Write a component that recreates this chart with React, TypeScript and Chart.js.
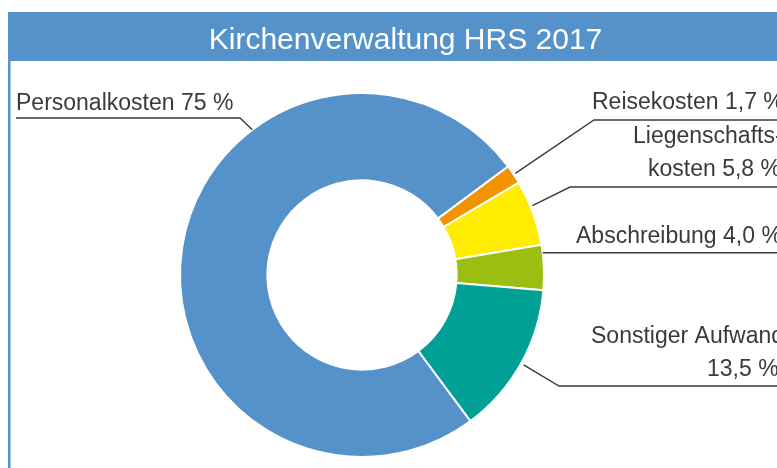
import React, { useEffect, useRef } from "react";
import { Chart, registerables } from "chart.js";

Chart.register(...registerables);

const title = "Kirchenverwaltung HRS 2017";
const categories = ["Personalkosten", "Reisekosten", "Liegenschaftskosten", "Abschreibung", "Sonstiger Aufwand"];
const shares = [75, 1.7, 5.8, 4.0, 13.5];
const labelLines = [
  ["Personalkosten 75 %"],
  ["Reisekosten 1,7 %"],
  ["Liegenschafts-", "kosten 5,8 %"],
  ["Abschreibung 4,0 %"],
  ["Sonstiger Aufwand", "13,5 %"],
];
const colors = ["#5592ca", "#f39200", "#ffec00", "#9cbe11", "#00a096"];

const BLUE = "#5592ca";
const TEXT = "#3a3a3a";
const FONT = '"Liberation Sans", Arial, sans-serif';

// label placement (layout only)
const labelLayout = [
  { frac: 0.665, rOff: 0, elbow: [240, 118], end: 16, text: [[16, 110]] },
  { frac: 0.5, rOff: 2, elbow: [594, 120], end: 777, text: [[592, 109]] },
  { frac: 0.4, rOff: 2, elbow: [570, 187], end: 777, text: [[633, 143], [648, 176]] },
  { frac: 0.18, rOff: 0, elbow: null, end: 777, text: [[576, 243]] },
  { frac: 0.5, rOff: 3, elbow: [559, 386], end: 777, text: [[591, 343], [707, 376]] },
];

const framePlugin = {
  id: "frame",
  beforeDraw(chart: any) {
    const ctx = chart.ctx;
    ctx.save();
    ctx.fillStyle = "#ffffff";
    ctx.fillRect(0, 0, chart.width, chart.height);
    ctx.fillStyle = BLUE;
    ctx.fillRect(8, 12, chart.width - 8, 49);
    ctx.fillRect(8, 61, 2.5, chart.height - 61);
    ctx.fillStyle = "#ffffff";
    ctx.font = `30px ${FONT}`;
    ctx.textAlign = "center";
    ctx.textBaseline = "alphabetic";
    ctx.fillText(title, 405.5, 49);
    ctx.restore();
  },
  afterDatasetsDraw(chart: any) {
    const ctx = chart.ctx;
    const meta = chart.getDatasetMeta(0);
    ctx.save();
    ctx.strokeStyle = TEXT;
    ctx.lineWidth = 1.4;
    ctx.fillStyle = TEXT;
    ctx.font = `23px ${FONT}`;
    ctx.textAlign = "left";
    ctx.textBaseline = "alphabetic";
    meta.data.forEach((arc: any, i: number) => {
      const p = arc.getProps(["x", "y", "startAngle", "endAngle", "outerRadius"], true);
      const L = labelLayout[i];
      const a = p.startAngle + (p.endAngle - p.startAngle) * L.frac;
      const r = p.outerRadius + L.rOff;
      const ax = p.x + Math.cos(a) * r;
      const ay = p.y + Math.sin(a) * r;
      ctx.beginPath();
      ctx.moveTo(ax, ay);
      let ey = ay;
      if (L.elbow) {
        ctx.lineTo(L.elbow[0], L.elbow[1]);
        ey = L.elbow[1];
      }
      ctx.lineTo(L.end, ey);
      ctx.stroke();
      labelLines[i].forEach((line, j) => {
        const t = L.text[j];
        ctx.fillText(line, t[0], t[1]);
      });
    });
    ctx.restore();
  },
};

export default function App() {
  const ref = useRef<HTMLCanvasElement>(null);
  useEffect(() => {
    document.body.style.margin = "0";
    document.body.style.overflow = "hidden";
    const chart = new Chart(ref.current as HTMLCanvasElement, {
      type: "doughnut",
      data: {
        labels: categories,
        datasets: [
          {
            data: shares,
            backgroundColor: colors,
            borderColor: "#ffffff",
            borderWidth: 2,
          },
        ],
      },
      options: {
        responsive: false,
        animation: false,
        events: [],
        rotation: 143.4,
        cutout: "52%",
        layout: { padding: { top: 92, bottom: 10, left: 179, right: 232 } },
        plugins: {
          legend: { display: false },
          tooltip: { enabled: false },
          title: { display: false },
        },
      },
      plugins: [framePlugin],
    });
    return () => chart.destroy();
  }, []);
  return <canvas ref={ref} width={777} height={468} style={{ display: "block" }} />;
}
